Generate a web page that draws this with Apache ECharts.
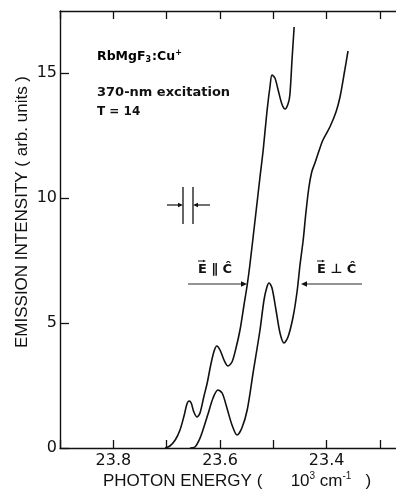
<!DOCTYPE html>
<html>
<head>
<meta charset="utf-8">
<script src="https://cdn.jsdelivr.net/npm/echarts@6/dist/echarts.min.js"></script>
<style>
  html, body { margin: 0; padding: 0; background: #fff; }
  #chart { width: 396px; height: 491px; }
</style>
</head>
<body>
<div id="chart"></div>
<script>
// Emission spectra of RbMgF3:Cu+ (photon energy in 10^3 cm^-1, intensity in arb. units)

// E parallel to c
const energyPar = [23.703, 23.694, 23.684, 23.675, 23.6675, 23.662, 23.658, 23.654, 23.649, 23.643,
  23.6375, 23.63, 23.624, 23.617, 23.611, 23.606, 23.60, 23.5925, 23.585, 23.5775,
  23.57, 23.5625, 23.555, 23.549, 23.544, 23.5325, 23.525, 23.519, 23.512, 23.506,
  23.5025, 23.497, 23.491, 23.484, 23.478, 23.4725, 23.469, 23.465, 23.461];
const intensityPar = [0, 0.08, 0.32, 0.72, 1.28, 1.76, 1.88, 1.8, 1.44, 1.24,
  1.4, 2.08, 2.6, 3.36, 3.88, 4.08, 3.92, 3.52, 3.28, 3.44,
  4.0, 4.72, 5.72, 6.52, 7.32, 9.44, 10.84, 11.92, 13.45, 14.5,
  14.92, 14.8, 14.32, 13.76, 13.56, 13.76, 14.12, 15.52, 16.84];

// E perpendicular to c
const energyPerp = [23.656, 23.647, 23.639, 23.632, 23.6225, 23.613, 23.604, 23.596, 23.587, 23.5775,
  23.568, 23.559, 23.549, 23.538, 23.525, 23.5175, 23.512, 23.508, 23.5025,
  23.495, 23.4875, 23.48, 23.4725, 23.463, 23.4556, 23.45, 23.444, 23.439, 23.4335,
  23.428, 23.422, 23.4145, 23.407, 23.394, 23.3825, 23.375, 23.366, 23.36];
const intensityPerp = [0, 0.04, 0.32, 0.72, 1.36, 2.0, 2.32, 2.2, 1.6, 0.92,
  0.52, 0.8, 1.52, 3.0, 4.72, 5.92, 6.44, 6.6, 6.4,
  5.52, 4.6, 4.2, 4.44, 5.24, 6.24, 7.32, 8.32, 9.4, 10.4,
  11.04, 11.4, 11.88, 12.32, 12.84, 13.44, 14.04, 15.12, 15.88];

// Axis ticks
const xTicks = [23.9, 23.8, 23.7, 23.6, 23.5, 23.4, 23.3];
const xTickLabels = [23.8, 23.6, 23.4];
const yTicks = [0, 5, 10, 15];

const toPairs = (xs, ys) => xs.map((x, i) => [x, ys[i]]);

const chart = echarts.init(document.getElementById('chart'), null, { renderer: 'canvas' });

const INK = '#111';
const labelFont = 'Liberation Sans';
const tickFont = 'DejaVu Sans';
const boldFont = 'DejaVu Sans';

const xAxisBase = {
  type: 'value',
  min: 23.27,
  max: 23.9,
  inverse: true,
  gridIndex: 0,
  axisLine: { show: true, lineStyle: { color: INK, width: 1.4 } },
  axisTick: { show: true, inside: true, length: 8, customValues: xTicks, lineStyle: { color: INK, width: 1.3 } },
  splitLine: { show: false }
};

// Small arrow helper for the annotations (line + filled head)
function arrow(x1, y1, x2, y2, head, width) {
  const dir = Math.sign(x2 - x1);
  return [
    { type: 'line', shape: { x1: x1, y1: y1, x2: x2 - dir * head, y2: y2 },
      style: { stroke: INK, lineWidth: width } },
    { type: 'polygon', shape: { points: [[x2, y2], [x2 - dir * head, y2 - head * 0.45], [x2 - dir * head, y2 + head * 0.45]] },
      style: { fill: INK } }
  ];
}

const graphics = [];

// Axis titles
graphics.push({
  type: 'text', x: 22, y: 212, rotation: Math.PI / 2,
  style: { text: 'EMISSION INTENSITY ( arb. units )', font: '17px "Liberation Sans"', fill: INK,
           textAlign: 'center', textVerticalAlign: 'middle' }
});
graphics.push({
  type: 'text', x: 103, y: 481,
  style: {
    text: '{t|PHOTON ENERGY (      10}{s|3}{t| cm}{s|-1}{t|   )}',
    textAlign: 'left', textVerticalAlign: 'middle',
    rich: {
      t: { fontFamily: labelFont, fontSize: 17, fill: INK, color: INK },
      s: { fontFamily: labelFont, fontSize: 10, fill: INK, color: INK, verticalAlign: 'top', padding: [0, 0, 10, 0] }
    }
  }
});

// Sample annotations
graphics.push({
  type: 'text', x: 97, y: 57,
  style: {
    text: '{b|RbMgF}{sub|3}{b|:Cu}{sup|+}',
    textVerticalAlign: 'middle',
    rich: {
      b: { fontFamily: boldFont, fontWeight: 'bold', fontSize: 12.5, color: INK },
      sub: { fontFamily: boldFont, fontWeight: 'bold', fontSize: 8, color: INK, padding: [6, 1, 0, 0] },
      sup: { fontFamily: boldFont, fontWeight: 'bold', fontSize: 8, color: INK, padding: [0, 0, 8, 0] }
    }
  }
});
graphics.push({
  type: 'text', x: 97, y: 93,
  style: { text: '370-nm excitation', font: 'bold 13px "DejaVu Sans"', fill: INK, textVerticalAlign: 'middle' }
});
graphics.push({
  type: 'text', x: 97, y: 112,
  style: { text: 'T = 14', font: 'bold 12px "DejaVu Sans"', fill: INK, textVerticalAlign: 'middle' }
});

// Spectral resolution bracket
graphics.push({ type: 'line', shape: { x1: 183, y1: 187, x2: 183, y2: 224 }, style: { stroke: INK, lineWidth: 1.3 } });
graphics.push({ type: 'line', shape: { x1: 193, y1: 187, x2: 193, y2: 224 }, style: { stroke: INK, lineWidth: 1.3 } });
graphics.push(...arrow(167, 205, 183, 205, 5, 1.2));
graphics.push(...arrow(210, 205, 193, 205, 5, 1.2));

// Polarization labels and pointers
function polLabel(x, sym) {
  const items = [];
  items.push({
    type: 'text', x: x, y: 270,
    style: { text: 'E ' + sym + ' Ĉ', font: 'bold 13px "DejaVu Sans"', fill: INK, textVerticalAlign: 'middle' }
  });
  items.push(...arrow(x, 261, x + 8, 261, 3, 1));
  return items;
}
graphics.push(...polLabel(198, '∥'));
graphics.push(...polLabel(317, '⊥'));
graphics.push(...arrow(188, 284, 247, 284, 6, 0.9));
graphics.push(...arrow(362, 284, 301, 284, 6, 0.9));

chart.setOption({
  backgroundColor: '#fff',
  animation: false,
  grid: { left: 60, right: 0, top: 11, bottom: 43, containLabel: false },
  xAxis: [
    Object.assign({}, xAxisBase, {
      position: 'bottom',
      axisLabel: {
        customValues: xTickLabels, formatter: v => Number(v).toFixed(1),
        margin: 5, fontSize: 16, fontFamily: tickFont, color: INK
      }
    }),
    Object.assign({}, xAxisBase, { position: 'top', axisLabel: { show: false } })
  ],
  yAxis: {
    type: 'value',
    min: 0,
    max: 17.48,
    axisLine: { show: true, lineStyle: { color: INK, width: 1.4 } },
    axisTick: { show: true, inside: true, length: 9, customValues: yTicks, lineStyle: { color: INK, width: 1.3 } },
    axisLabel: { customValues: yTicks, margin: 3, fontSize: 16, fontFamily: tickFont, color: INK },
    splitLine: { show: false }
  },
  series: [
    {
      name: 'E ∥ c', type: 'line', xAxisIndex: 0, data: toPairs(energyPar, intensityPar),
      smooth: 0.3, showSymbol: false, lineStyle: { color: INK, width: 1.6 }
    },
    {
      name: 'E ⊥ c', type: 'line', xAxisIndex: 0, data: toPairs(energyPerp, intensityPerp),
      smooth: 0.3, showSymbol: false, lineStyle: { color: INK, width: 1.6 }
    }
  ],
  graphic: graphics
});
</script>
</body>
</html>
